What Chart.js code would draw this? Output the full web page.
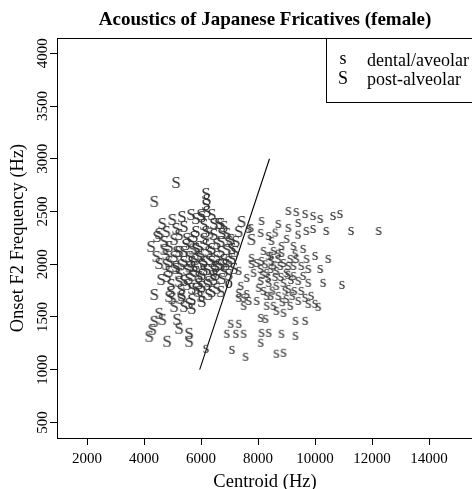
<!DOCTYPE html>
<html>
<head>
<meta charset="utf-8">
<script src="https://cdn.jsdelivr.net/npm/chart.js@4"></script>
<style>
html, body { margin: 0; padding: 0; background: #fff; overflow: hidden; }
#wrap { width: 480px; height: 489px; }
</style>
</head>
<body>
<div id="wrap"><canvas id="fric" width="480" height="489"></canvas></div>
<script>
// tick labels
var xTicks = [2000, 4000, 6000, 8000, 10000, 12000, 14000];
var yTicks = [500, 1000, 1500, 2000, 2500, 3000, 3500, 4000];

// dental/aveolar ("s")
var dentalX = [9060, 9340, 9650, 9930, 10180, 8120, 7740, 8090, 8370, 8710, 9060, 9410, 9690, 9930, 10390, 11260, 12230, 10630, 10870,
  8470, 8540, 8820, 8470, 9130, 9060, 9515, 9760, 7770, 7770, 8120, 7670, 7320, 7600, 7320, 7320, 7490, 7600,
  7040, 7320, 6900, 7220, 7490, 7080, 7560, 8120, 8370, 8090, 8820, 9310, 8890, 8640, 8090, 8260, 9650, 9310,
  8640, 8890, 9650, 10000, 9760, 7390, 7670, 7490, 10280, 6170, 7950, 8090, 8300, 8440, 8640, 8780, 8990, 9240,
  9410, 8090, 8370, 8640, 8890, 9060, 9270, 8190, 8440, 8710, 8990, 9410, 7950, 8300, 8540, 9130, 8190, 8370,
  8710, 8890, 9340, 9580, 9760, 7840, 8020, 9240, 9515, 8820, 9240, 9580, 10180, 9860, 10110, 10940, 10460, 10000,
  8250, 8550, 8800, 9150, 8350, 8150, 8600, 8950, 9200, 8500, 8300, 8850, 9050, 8700, 8450, 9300, 9700, 9000, 8600, 9400];
var dentalY = [2505, 2495, 2476, 2457, 2429, 2410, 2344, 2297, 2268, 2382, 2344, 2391, 2315, 2334, 2315, 2315, 2315, 2457, 2476,
  2221, 2126, 2107, 2031, 2050, 1984, 1984, 1955, 2060, 2003, 2031, 2334, 1937, 1870, 1728, 1681, 1681, 1718,
  1435, 1435, 1340, 1340, 1340, 1188, 1122, 1349, 1349, 1255, 1340, 1321, 1160, 1151, 1491, 1482, 1463, 1463,
  1558, 1539, 1681, 1624, 1624, 1795, 1652, 1605, 1823, 1198, 2012, 1955, 1918, 1955, 1937, 1984, 1918, 1889,
  1842, 1842, 1823, 1795, 1823, 1766, 1747, 1747, 1700, 1700, 1671, 1652, 1652, 1605, 1605, 1605, 2126, 2079,
  2050, 2012, 2050, 1889, 1823, 1918, 1776, 1984, 1747, 2173, 2173, 2145, 1955, 1700, 1596, 1804, 2050, 2079,
  2000, 1990, 1880, 1850, 1870, 1900, 1880, 1750, 1700, 1750, 1700, 1640, 1900, 2100, 2080, 2100, 2050, 2240, 2300, 2280];

// post-alveolar ("S")
var postX = [4360, 5125, 6170, 6205, 6170, 6205, 6380, 6030, 6100, 6450, 6690, 6730, 7040, 7080, 6900, 7080, 7150, 6870, 6970,
  6730, 6520, 6270, 6030, 5820, 5680, 5820, 5650, 5820, 5680, 5930, 5680, 6030, 6270, 6550, 5680, 4640, 4990, 5330,
  6000, 6620, 7220, 6970, 4530, 4780, 5125, 5230, 5820, 6170, 6450, 4710, 4880, 4780, 5160, 5470, 6170, 6380, 6690,
  4880, 5125, 5400, 5750, 6100, 6450, 6620, 4460, 4780, 4880, 4810, 4950, 4950, 4990, 4360, 5300, 5580, 5300, 5230,
  5510, 5820, 5125, 5930, 6030, 6205, 5580, 5230, 4880, 5330, 4530, 4360, 4640, 4290, 5160, 5230, 5580, 4810, 5580,
  4185, 5400, 5650, 5930, 6270, 6550, 6800, 6380, 5930, 5510, 6205, 6800, 6450, 5930, 5580, 5230, 5056, 5750, 6100,
  6690, 6900, 6800, 5400, 5056, 4710, 4530, 6380, 6690, 5400, 5056, 6030, 6520, 6970, 7180, 7320, 7420, 4250, 4430,
  4600, 7770, 5500, 5700, 6000, 6300, 5800, 6100, 6400, 5700, 5400, 6000, 6300, 6550, 5300, 5600, 6700];
var postY = [2600, 2780, 2675, 2618, 2571, 2505, 2476, 2457, 2382, 2391, 2391, 2297, 2240, 2154, 2145, 2060, 1965, 2003, 1908,
  1870, 1908, 1842, 1908, 1937, 2031, 2154, 2476, 2438, 1776, 1747, 1671, 1652, 1718, 1776, 1586, 2391, 2429, 2457,
  2476, 2391, 2221, 2221, 2297, 2315, 2344, 2287, 2315, 2315, 2287, 2221, 2173, 2098, 2126, 2192, 2192, 2154, 2126,
  2031, 1984, 2031, 1984, 2031, 1955, 2003, 2268, 2003, 1937, 1889, 1813, 1747, 1681, 1718, 1681, 1633, 1766, 1842,
  1813, 1776, 1965, 1889, 2003, 1813, 2079, 2126, 1700, 1709, 1539, 1463, 1482, 1387, 1482, 1397, 1349, 1274, 1274,
  1321, 2126, 2221, 2173, 2126, 2079, 2050, 2031, 2079, 1955, 1955, 1937, 1860, 1823, 1870, 1918, 2079, 2268, 2250,
  2221, 2297, 2363, 2363, 2240, 2145, 2012, 1747, 1747, 1605, 1605, 1795, 1984, 2031, 2126, 2315, 2410, 2173, 2079,
  1860, 2240, 2250, 2150, 2100, 2050, 2050, 1950, 1900, 1900, 1850, 1700, 2300, 2200, 2000, 1980, 2000];

// boundary line and the small "o"
var lineX = [5950, 8400];
var lineY = [1000, 3000];
var oX = [6970];
var oY = [1813];

var serif = "'Liberation Serif', 'Times New Roman', serif";

function pts(xs, ys) {
  var out = [];
  for (var i = 0; i < xs.length; i++) out.push({ x: xs[i], y: ys[i] });
  return out;
}

// letter used as the plotting symbol
function glyph(ch, size, color) {
  var c = document.createElement('canvas');
  c.width = 18; c.height = 20;
  var g = c.getContext('2d');
  g.font = size + 'px ' + serif;
  g.fillStyle = color;
  g.textAlign = 'center';
  g.textBaseline = 'alphabetic';
  var m = g.measureText(ch);
  var asc = m.actualBoundingBoxAscent, desc = m.actualBoundingBoxDescent;
  g.fillText(ch, 9, 10 + (asc - desc) / 2);
  return c;
}

var markColor = '#333';

var frame = {
  id: 'frame',
  afterDraw: function (chart) {
    var ctx = chart.ctx, a = chart.chartArea;
    ctx.save();
    ctx.strokeStyle = '#000';
    ctx.lineWidth = 1;
    ctx.strokeRect(a.left + 0.5, a.top + 0.5, a.right - a.left, a.bottom - a.top);
    // legend box
    ctx.strokeRect(326.5, a.top + 0.5, 200, 64);
    ctx.fillStyle = '#000';
    ctx.font = '18px ' + serif;
    ctx.textBaseline = 'middle';
    ctx.textAlign = 'center';
    ctx.fillText('s', 343, 59);
    ctx.fillText('S', 343, 79);
    ctx.textAlign = 'left';
    ctx.fillText('dental/aveolar', 367, 61);
    ctx.fillText('post-alveolar', 367, 80);
    ctx.restore();
  }
};

new Chart(document.getElementById('fric'), {
  type: 'scatter',
  data: {
    datasets: [
      { label: 'dental/aveolar', data: pts(dentalX, dentalY), pointStyle: glyph('s', 17, markColor), pointRadius: 6 },
      { label: 'post-alveolar', data: pts(postX, postY), pointStyle: glyph('S', 17, markColor), pointRadius: 6 },
      { type: 'line', data: pts(lineX, lineY), borderColor: '#000', borderWidth: 1.1, pointRadius: 0, fill: false },
      { data: pts(oX, oY), pointStyle: glyph('o', 16, '#000'), pointRadius: 6 }
    ]
  },
  options: {
    responsive: false,
    animation: false,
    layout: { padding: { left: 0, right: 4, top: 0, bottom: 0 } },
    plugins: {
      legend: { display: false },
      tooltip: { enabled: false },
      title: {
        display: true,
        fullSize: false,
        text: 'Acoustics of Japanese Fricatives (female)',
        color: '#000',
        font: { family: serif, size: 19, weight: 'bold', lineHeight: 1.2 },
        padding: { top: 9, bottom: 6.2 }
      }
    },
    scales: {
      x: {
        type: 'linear',
        min: 944, max: 15540,
        afterBuildTicks: function (s) { s.ticks = xTicks.map(function (v) { return { value: v }; }); },
        afterFit: function (s) { s.height = 51; },
        grid: { drawOnChartArea: false, tickLength: 7, color: '#000' },
        border: { color: '#000' },
        ticks: {
          color: '#000', font: { family: serif, size: 15 }, padding: 5, autoSkip: false, maxRotation: 0,
          callback: function (v) { return '' + v; }
        },
        title: {
          display: true, text: 'Centroid (Hz)', color: '#000',
          font: { family: serif, size: 18.5, lineHeight: 1 }, padding: { top: 0, bottom: -2 }
        }
      },
      y: {
        type: 'linear',
        min: 352, max: 4145,
        afterBuildTicks: function (s) { s.ticks = yTicks.map(function (v) { return { value: v }; }); },
        afterFit: function (s) { s.width = 57; },
        grid: { drawOnChartArea: false, tickLength: 7, color: '#000' },
        border: { color: '#000' },
        ticks: {
          color: '#000', font: { family: serif, size: 15 }, padding: -8, autoSkip: false,
          minRotation: 90, maxRotation: 90, crossAlign: 'center',
          callback: function (v) { return '' + v; }
        },
        title: {
          display: true, text: 'Onset F2 Frequency (Hz)', color: '#000',
          font: { family: serif, size: 18.5, lineHeight: 1 }, padding: { top: 8.5, bottom: 0 }
        }
      }
    }
  },
  plugins: [frame]
});
</script>
</body>
</html>
